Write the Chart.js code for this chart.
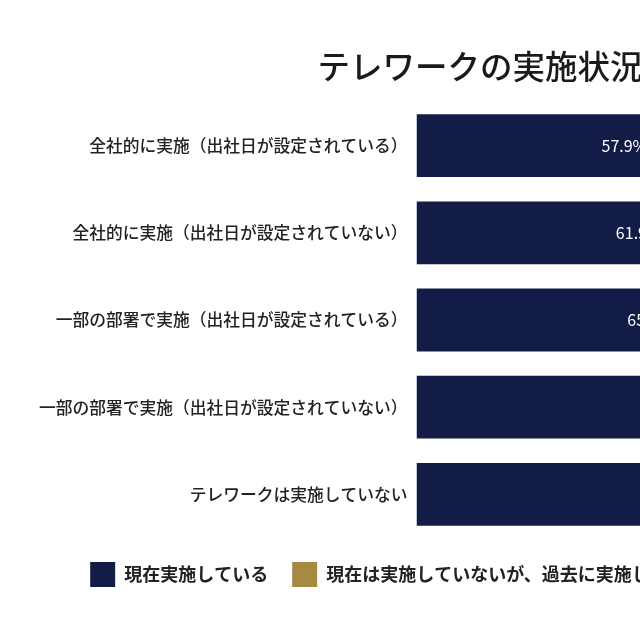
<!DOCTYPE html>
<html>
<head>
<meta charset="utf-8">
<script src="https://cdn.jsdelivr.net/npm/chart.js@4.4.1/dist/chart.umd.min.js"></script>
<style>
  html, body { margin: 0; padding: 0; background: #ffffff; overflow: hidden; }
  #wrap { position: absolute; left: 0; top: 0; width: 956px; height: 640px; }
</style>
</head>
<body>
<div id="wrap"><canvas id="c"></canvas></div>
<script>
const titleText = 'テレワークの実施状況';
const categories = [
  '全社的に実施（出社日が設定されている）',
  '全社的に実施（出社日が設定されていない）',
  '一部の部署で実施（出社日が設定されている）',
  '一部の部署で実施（出社日が設定されていない）',
  'テレワークは実施していない'
];
const seriesNames = [
  '現在実施している',
  '現在は実施していないが、過去に実施したことがある',
  '未実施'
];
const nowValues   = [57.9, 61.9, 65.1, 73.6, 79.4];
const pastValues  = [18.2, 15.4, 14.3, 11.5, 9.8];
const neverValues = [23.9, 22.7, 20.6, 14.9, 10.8];

const FONT = "'Noto Sans CJK JP', 'Noto Sans', sans-serif";

const valueLabels = {
  id: 'valueLabels',
  afterDatasetsDraw(chart) {
    const ctx = chart.ctx;
    ctx.save();
    ctx.font = '16px ' + FONT;
    ctx.textAlign = 'center';
    ctx.textBaseline = 'middle';
    chart.data.datasets.forEach((ds, di) => {
      const meta = chart.getDatasetMeta(di);
      meta.data.forEach((el, i) => {
        const v = ds.data[i];
        if (v == null) return;
        const cx = (el.x + el.base) / 2;
        ctx.fillStyle = di === 2 ? '#333333' : '#ffffff';
        ctx.fillText(v.toFixed(1) + '%', cx, el.y);
      });
    });
    ctx.restore();
  }
};

new Chart(document.getElementById('c'), {
  type: 'bar',
  data: {
    labels: categories,
    datasets: [
      { label: seriesNames[0], data: nowValues, backgroundColor: '#121c46' },
      { label: seriesNames[1], data: pastValues, backgroundColor: '#a88944' },
      { label: seriesNames[2], data: neverValues, backgroundColor: '#c9c9c9' }
    ]
  },
  options: {
    indexAxis: 'y',
    responsive: true,
    maintainAspectRatio: false,
    animation: false,
    layout: { padding: { left: 30, right: 26, top: 0, bottom: 43 } },
    scales: {
      x: { stacked: true, display: false, min: 0, max: 71.5 },
      y: {
        stacked: true,
        grid: { display: false, drawTicks: false },
        border: { display: false },
        ticks: { color: '#222222', padding: 9, font: { family: FONT, size: 16.75, weight: '500' } }
      }
    },
    plugins: {
      title: {
        display: true,
        text: titleText,
        color: '#1a1a1a',
        font: { family: FONT, size: 32.5, weight: '500' },
        padding: { top: 47, bottom: 16 }
      },
      legend: {
        position: 'bottom',
        labels: {
          boxWidth: 25, boxHeight: 25, padding: 24,
          color: '#222222',
          font: { family: FONT, size: 18, weight: 'bold' }
        }
      },
      tooltip: { enabled: false }
    }
  },
  plugins: [valueLabels]
});
</script>
</body>
</html>
